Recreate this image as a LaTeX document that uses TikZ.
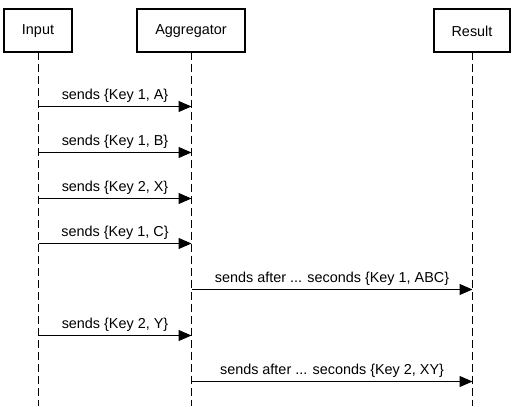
\documentclass[tikz,border=0pt]{standalone}
\usepackage{fontspec}
\setmainfont{Liberation Sans}
\usetikzlibrary{arrows.meta}
\begin{document}
\begin{tikzpicture}[x=1pt,y=-1pt,
  actor/.style={draw,line width=2pt,minimum height=43pt,inner sep=0pt,font=\fontsize{14.4}{17}\selectfont},
  life/.style={line width=1pt,dash pattern=on 8pt off 4pt},
  msg/.style={line width=1pt,-{Triangle[length=13pt,width=11pt]}},
  lbl/.style={above=4pt,inner sep=0pt,font=\fontsize{14.4}{17}\selectfont}]
\useasboundingbox (0,0) rectangle (518,406);
% actors
\node[actor,minimum width=68pt] (in) at (38,31) {Input};
\node[actor,minimum width=108pt] (ag) at (191,31) {Aggregator};
\node[actor,minimum width=76pt] (re) at (472,31) {Result};
% lifeline ends
\coordinate (inT) at (38.5,52);
\coordinate (agT) at (191.5,52);
\coordinate (reT) at (472.5,52);
\coordinate (inB) at (38.5,406);
\coordinate (agB) at (191.5,406);
\coordinate (reB) at (472.5,406);
\draw[life] (inT) -- (inB);
\draw[life] (agT) -- (agB);
\draw[life] (reT) -- (reB);
% message points
\coordinate (i1) at (38.5,106.5); \coordinate (a1) at (191.5,106.5);
\coordinate (i2) at (38.5,152.5); \coordinate (a2) at (191.5,152.5);
\coordinate (i3) at (38.5,198.5); \coordinate (a3) at (191.5,198.5);
\coordinate (i4) at (38.5,243.5); \coordinate (a4) at (191.5,243.5);
\coordinate (a5) at (191.5,289.5); \coordinate (r5) at (472.5,289.5);
\coordinate (i6) at (38.5,335.5); \coordinate (a6) at (191.5,335.5);
\coordinate (a7) at (191.5,381.5); \coordinate (r7) at (472.5,381.5);
% messages
\draw[msg] (i1) -- node[lbl] {sends \{Key 1, A\}} (a1);
\draw[msg] (i2) -- node[lbl] {sends \{Key 1, B\}} (a2);
\draw[msg] (i3) -- node[lbl] {sends \{Key 2, X\}} (a3);
\draw[msg] (i4) -- node[lbl] {sends \{Key 1, C\}} (a4);
\draw[msg] (a5) -- node[lbl] {sends after ... seconds \{Key 1, ABC\}} (r5);
\draw[msg] (i6) -- node[lbl] {sends \{Key 2, Y\}} (a6);
\draw[msg] (a7) -- node[lbl] {sends after ... seconds \{Key 2, XY\}} (r7);
\end{tikzpicture}
\end{document}
